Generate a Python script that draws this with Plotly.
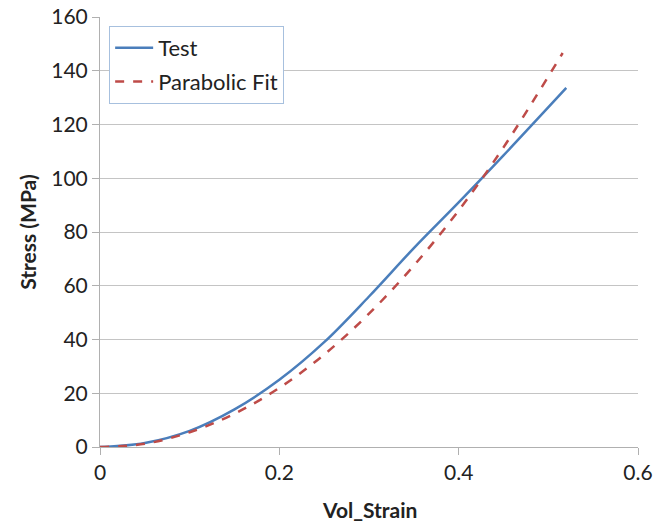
import plotly.graph_objects as go

# Test curve
test_strain = [0.0, 0.05, 0.10, 0.15, 0.20, 0.25, 0.30, 0.35, 0.40, 0.45, 0.52]
test_stress = [0.0, 1.5, 6.0, 14.0, 25.0, 39.0, 56.0, 74.0, 91.0, 108.5, 133.6]

# Parabolic fit curve
fit_strain = [0.0, 0.05, 0.10, 0.15, 0.20, 0.25, 0.30, 0.35, 0.40, 0.45, 0.516]
fit_stress = [0.0, 1.2, 5.5, 12.4, 22.0, 34.4, 49.6, 67.5, 88.0, 111.5, 146.6]

x_ticks = [0, 0.2, 0.4, 0.6]
x_labels = ["0", "0.2", "0.4", "0.6"]
y_ticks = [0, 20, 40, 60, 80, 100, 120, 140, 160]

FONT = "Lato, Open Sans, sans-serif"

fig = go.Figure()
fig.add_trace(go.Scatter(x=test_strain, y=test_stress, mode="lines", name="Test",
                         legendgroup="a",
                         line=dict(color="#4a7ebb", width=2.5, shape="spline")))
fig.add_trace(go.Scatter(x=fit_strain, y=fit_stress, mode="lines", name="Parabolic Fit",
                         legendgroup="b",
                         line=dict(color="#be4b48", width=2.5, dash="dash", shape="spline")))

fig.update_layout(
    width=667, height=523,
    margin=dict(l=100, r=29, t=17, b=76),
    paper_bgcolor="white", plot_bgcolor="white",
    font=dict(family=FONT, size=20, color="#222222"),
    showlegend=True,
    legend=dict(x=0.017, y=0.979, xanchor="left", yanchor="top",
                bgcolor="white", bordercolor="#a7c0de", borderwidth=1,
                font=dict(size=22, color="#222222"),
                itemwidth=38,
                traceorder="grouped", tracegroupgap=2),
    xaxis=dict(range=[0, 0.6], tickvals=x_ticks, ticktext=x_labels,
               showgrid=False, zeroline=False, automargin=False,
               showline=True, linecolor="#b0b0b0", linewidth=1,
               ticks="outside", ticklen=7, tickcolor="#b0b0b0",
               ticklabeloverflow="allow",
               tickfont=dict(size=21)),
    yaxis=dict(range=[0, 160], tickvals=y_ticks, automargin=False,
               showgrid=True, gridcolor="#c4c4c4", gridwidth=1, zeroline=False,
               showline=True, linecolor="#b0b0b0", linewidth=1,
               ticks="outside", ticklen=7, tickcolor="#b0b0b0",
               ticklabeloverflow="allow",
               tickfont=dict(size=21)),
    annotations=[
        dict(text="<b>Vol_Strain</b>", xref="paper", yref="paper",
             x=0.5, y=-0.1465, xanchor="center", yanchor="middle",
             showarrow=False, font=dict(size=21)),
        dict(text="<b>Stress (MPa)</b>", xref="paper", yref="paper",
             x=-0.136, y=0.5, xanchor="center", yanchor="middle",
             textangle=-90, showarrow=False, font=dict(size=21)),
    ],
)

fig.write_html("out.html", config={"displayModeBar": False},
               post_script="document.body.style.margin='0';")
